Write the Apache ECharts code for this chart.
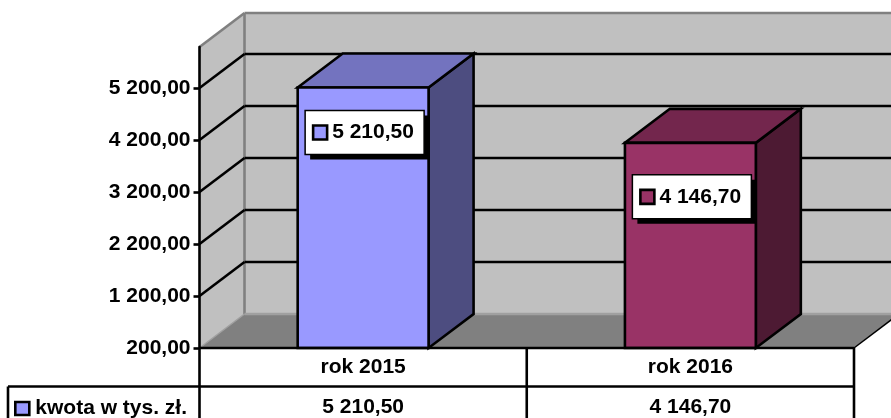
<!DOCTYPE html>
<html>
<head>
<meta charset="utf-8">
<style>
  html, body { margin: 0; padding: 0; background: #fff; }
  #chart { width: 891px; height: 418px; }
</style>
</head>
<body>
<div id="chart"></div>
<script src="https://cdn.jsdelivr.net/npm/echarts@6/dist/echarts.min.js"></script>
<script>
const categories = ["rok 2015", "rok 2016"];
const values = [5210.5, 4146.7];
const valueLabels = ["5 210,50", "4 146,70"];
const yTicks = [200, 1200, 2200, 3200, 4200, 5200];
const seriesName = "kwota w tys. zł.";

const FONT = '"Liberation Sans", Arial, sans-serif';
const FONT_SIZE = 21;
const LW = 2.6;
// przesuniecie glebokosci 3D
const DX = 45;
const DY = -34;
const frontColors = ["#9999FF", "#993366"];
const topColors = ["#7373BF", "#73264D"];
const sideColors = ["#4D4D80", "#4D1A33"];
// odleglosc etykiety od gory slupka
const labelDrop = [45, 54];

function fmt(v) {
  return String(v).replace(/\B(?=(\d{3})+$)/g, " ") + ",00";
}
function poly(points, fill, stroke, width) {
  return {
    type: "polygon",
    shape: { points: points },
    style: { fill: fill, stroke: stroke || null, lineWidth: width || 0, lineJoin: "miter" }
  };
}
function line(x1, y1, x2, y2, color, width) {
  return {
    type: "line",
    shape: { x1: x1, y1: y1, x2: x2, y2: y2 },
    style: { stroke: color, lineWidth: width, fill: null }
  };
}

function renderWalls(params, api) {
  const c = params.coordSys;
  const l = c.x, r = c.x + c.width, t = c.y, b = c.y + c.height;
  const kids = [
    poly([[l, b], [l + DX, b + DY], [r + DX, b + DY], [r + DX, t + DY], [l + DX, t + DY], [l, t]], "#C0C0C0"),
    poly([[l, b], [l + DX, b + DY], [r + DX, b + DY], [r, b]], "#808080"),
    line(l + DX, t + DY, r + DX, t + DY, "#808080", LW),
    line(l + DX, t + DY, l + DX, b + DY, "#808080", LW),
    line(l, t, l + DX, t + DY, "#808080", LW),
    line(l, b, l + DX, b + DY, "#A0A0A0", 1.5),
    line(l + DX, b + DY, r + DX, b + DY, "#A0A0A0", LW)
  ];
  yTicks.slice(1).forEach(function (v) {
    const y = api.coord([0, v])[1];
    kids.push(line(l, y, l + DX, y + DY, "#000", LW));
    kids.push(line(l + DX, y + DY, r + DX, y + DY, "#000", LW));
  });
  return { type: "group", children: kids };
}

function renderBar(params, api) {
  const i = api.value(0);
  const top = api.coord([i, api.value(1)]);
  const base = api.coord([i, yTicks[0]]);
  const w = api.size([1, 0])[0] * 0.4;
  const x0 = top[0] - w / 2, x1 = top[0] + w / 2;
  const y0 = top[1], y1 = base[1];
  return {
    type: "group",
    children: [
      poly([[x1, y0], [x1 + DX, y0 + DY], [x1 + DX, y1 + DY], [x1, y1]], sideColors[i], "#000", LW),
      poly([[x0, y0], [x0 + DX, y0 + DY], [x1 + DX, y0 + DY], [x1, y0]], topColors[i], "#000", LW),
      poly([[x0, y0], [x1, y0], [x1, y1], [x0, y1]], frontColors[i], "#000", LW)
    ]
  };
}

function renderLabel(params, api) {
  const i = api.value(0);
  const top = api.coord([i, api.value(1)]);
  const cx = top[0] + 1.5, cy = top[1] + labelDrop[i];
  const bw = 119, bh = 44;
  const bx = cx - bw / 2, by = cy - bh / 2;
  return {
    type: "group",
    children: [
      { type: "rect", shape: { x: bx + 5, y: by + 5, width: bw, height: bh }, style: { fill: "#000" } },
      { type: "rect", shape: { x: bx, y: by, width: bw, height: bh }, style: { fill: "#fff", stroke: "#000", lineWidth: 1.5 } },
      { type: "rect", shape: { x: bx + 8, y: cy - 7, width: 14, height: 14 }, style: { fill: frontColors[i], stroke: "#000", lineWidth: LW } },
      { type: "text", x: bx + 27, y: cy, style: { text: valueLabels[i], font: "bold " + FONT_SIZE + "px " + FONT, fill: "#000", textAlign: "left", textVerticalAlign: "middle" } }
    ]
  };
}

function renderTable(params) {
  const c = params.coordSys;
  const l = c.x, r = c.x + c.width, b = c.y + c.height;
  const rowY = b + 38.5, end = 418, mid = l + c.width / 2;
  return {
    type: "group",
    children: [
      line(8, rowY, r, rowY, "#000", LW),
      line(8, rowY, 8, end, "#000", LW),
      line(l, b, l, end, "#000", LW),
      line(mid, b, mid, end, "#000", LW),
      line(r, b, r, end, "#000", LW),
      line(r, b, r + DX, b + DY, "#000", 1.5)
    ]
  };
}

function renderBase(params) {
  const c = params.coordSys;
  const b = c.y + c.height;
  return line(c.x, b, c.x + c.width, b, "#000", LW);
}

const chart = echarts.init(document.getElementById("chart"), null, { renderer: "canvas" });
chart.setOption({
  animation: false,
  backgroundColor: "#fff",
  textStyle: { fontFamily: FONT },
  legend: {
    data: [seriesName],
    left: 14,
    top: 398,
    itemWidth: 14,
    itemHeight: 13,
    itemGap: 0,
    padding: 0,
    icon: "rect",
    itemStyle: { borderColor: "#000", borderWidth: LW },
    textStyle: { fontFamily: FONT, fontSize: FONT_SIZE, fontWeight: "bold", color: "#000", padding: [0, 0, 0, 1] }
  },
  grid: { left: 199.5, right: 37, top: 47, bottom: 70 },
  xAxis: [
    {
      type: "category",
      data: categories,
      axisLine: { show: false },
      axisTick: { show: false },
      axisLabel: { color: "#000", fontFamily: FONT, fontSize: FONT_SIZE, fontWeight: "bold", margin: 9 }
    },
    {
      type: "category",
      position: "bottom",
      offset: 40,
      data: valueLabels,
      axisLine: { show: false },
      axisTick: { show: false },
      axisLabel: { color: "#000", fontFamily: FONT, fontSize: FONT_SIZE, fontWeight: "bold", margin: 9 }
    }
  ],
  yAxis: {
    type: "value",
    min: 200,
    max: 5990,
    interval: 1000,
    z: 5,
    splitLine: { show: false },
    axisLine: { show: true, lineStyle: { color: "#000", width: LW } },
    axisTick: { show: true, length: 6, customValues: yTicks, lineStyle: { color: "#000", width: LW } },
    axisLabel: { customValues: yTicks, formatter: fmt, color: "#000", fontFamily: FONT, fontSize: FONT_SIZE, fontWeight: "bold", margin: 9 }
  },
  series: [
    { type: "custom", name: "walls", z: 1, silent: true, renderItem: renderWalls, data: [[0, 200]] },
    { type: "custom", name: "table", z: 2, silent: true, clip: false, renderItem: renderTable, data: [[0, 200]] },
    {
      type: "custom",
      name: seriesName,
      z: 3,
      itemStyle: { color: frontColors[0] },
      renderItem: renderBar,
      encode: { x: 0, y: 1 },
      data: values.map(function (v, i) { return [i, v]; })
    },
    { type: "custom", name: "base", z: 3, silent: true, renderItem: renderBase, data: [[0, 200]] },
    {
      type: "custom",
      name: "labels",
      z: 4,
      renderItem: renderLabel,
      encode: { x: 0, y: 1 },
      data: values.map(function (v, i) { return [i, v]; })
    }
  ]
});
</script>
</body>
</html>
